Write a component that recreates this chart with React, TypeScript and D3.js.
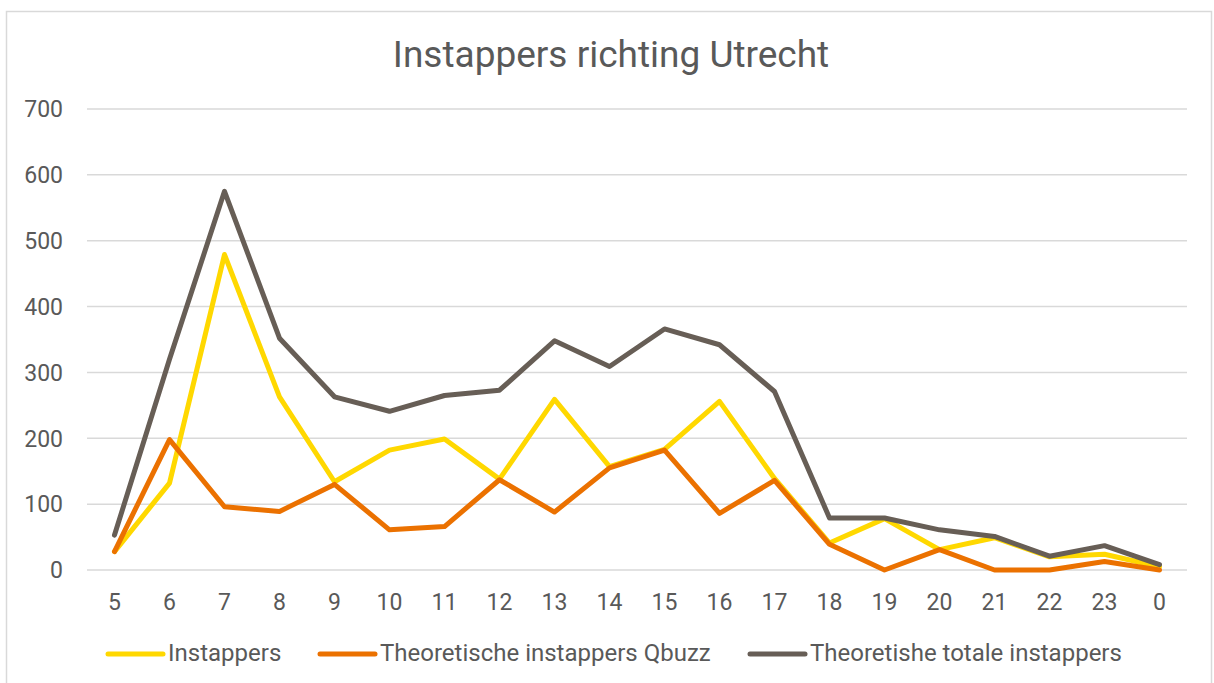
import React from "react";
import { scaleLinear, scalePoint, line } from "d3";

const hours = ["5", "6", "7", "8", "9", "10", "11", "12", "13", "14", "15", "16", "17", "18", "19", "20", "21", "22", "23", "0"];
const instappers = [28, 132, 479, 263, 134, 182, 199, 138, 259, 157, 183, 256, 139, 41, 78, 31, 49, 20, 24, 5];
const qbuzz = [28, 198, 96, 89, 130, 61, 66, 137, 88, 155, 182, 86, 136, 39, 0, 31, 0, 0, 13, 0];
const totaal = [53, 320, 575, 352, 263, 241, 265, 273, 348, 309, 366, 342, 271, 79, 79, 61, 51, 21, 37, 8];
const yTicks = [0, 100, 200, 300, 400, 500, 600, 700];

const series = [
    { name: "Instappers", values: instappers, color: "#FFD800" },
    { name: "Theoretische instappers Qbuzz", values: qbuzz, color: "#EB7100" },
    { name: "Theoretishe totale instappers", values: totaal, color: "#675E56" },
];

const legendX = [108, 320, 750];

const App = () => {
    const width = 1214
    const height = 683
    const font = "Roboto, 'Noto Sans', sans-serif"

    // scales
    const xScale = scalePoint<string>()
        .domain(hours)
        .range([87, 1187])
        .padding(0.5)

    const yScale = scaleLinear()
        .domain([0, 700])
        .range([570, 109])

    const path = line<number>()
        .x((d, i) => xScale(hours[i]) as number)
        .y(d => yScale(d))

    const gridlines = yTicks.map(t => (
        <g key={t}>
            <line x1={87} x2={1187} y1={yScale(t)} y2={yScale(t)} stroke="#D9D9D9" strokeWidth={1.5} />
            <text x={63} y={yScale(t) + 8.3} textAnchor="end" fontSize={23} fill="#595959">{t}</text>
        </g>
    ))

    const xLabels = hours.map(h => (
        <text key={h} x={xScale(h)} y={610} textAnchor="middle" fontSize={23} fill="#595959">{h}</text>
    ))

    const lines = series.map(s => (
        <path key={s.name} d={path(s.values) || ""} fill="none" stroke={s.color}
            strokeWidth={5} strokeLinejoin="round" strokeLinecap="round" />
    ))

    const legend = series.map((s, i) => (
        <g key={s.name}>
            <line x1={legendX[i]} x2={legendX[i] + 55} y1={654} y2={654} stroke={s.color} strokeWidth={5} strokeLinecap="round" />
            <text x={legendX[i] + 60} y={661} fontSize={24} fill="#595959">{s.name}</text>
        </g>
    ))

    return <div style={{ position: "absolute", left: 0, top: 0 }}>
        <svg width={width} height={height} viewBox={`0 0 ${width} ${height}`} style={{ display: "block", fontFamily: font }}>
            <rect x={0} y={0} width={width} height={height} fill="#FFF" />
            <rect x={6.5} y={11.5} width={1205} height={690} fill="#FFF" stroke="#D9D9D9" strokeWidth={1.5} />
            <text x={611} y={67} textAnchor="middle" fontSize={37} fill="#595959">Instappers richting Utrecht</text>
            {gridlines}
            {xLabels}
            {lines}
            {legend}
        </svg>
    </div>
}

export default App;
